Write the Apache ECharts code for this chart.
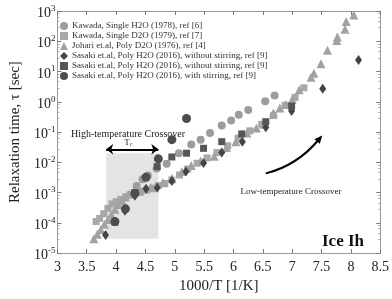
<!DOCTYPE html>
<html><head><meta charset="utf-8">
<script src="https://cdn.jsdelivr.net/npm/echarts@6/dist/echarts.min.js"></script>
<style>html,body{margin:0;padding:0;background:#fff}#c{width:392px;height:299px}</style>
</head><body><div id="c"></div>
<script>
// ---- data (x = 1000/T [1/K], y = relaxation time tau [sec]) ----
const seriesNames = [
  'Kawada, Single H2O (1978), ref [6]',
  'Kawada, Single D2O (1979), ref [7]',
  'Johari et.al, Poly D2O (1976), ref [4]',
  'Sasaki et.al, Poly H2O (2016), without stirring, ref [9]',
  'Sasaki et.al, Poly H2O (2016), without stirring, ref [9] ',
  'Sasaki et.al, Poly H2O (2016), with stirring, ref [9]'
];
const kawadaH2O_x = [4.35,4.45,4.54,4.69,4.86,5.07,5.28,5.44,5.60,5.80,5.96,6.09,6.25,6.54,6.70];
const kawadaH2O_y = [1.66e-3,2.75e-3,3.7e-3,6.2e-3,8.9e-3,2.0e-2,3.9e-2,5.6e-2,9.3e-2,0.166,0.24,0.37,0.54,1.05,1.6];
const kawadaD2O_x = [3.66,3.72,3.79,3.86,3.93,4.00,4.08,4.16,4.24,4.33,4.42,4.52,4.62,4.72,4.83,4.95,5.08,5.22,5.38,5.55,5.72,5.90,6.08,6.28,6.48,6.68,6.88,7.05,7.20];
const kawadaD2O_y = [1.1e-4,1.4e-4,2.0e-4,3.0e-4,4.2e-4,5.0e-4,6.0e-4,7.2e-4,8.5e-4,1.0e-3,1.1e-3,1.2e-3,1.4e-3,1.7e-3,2.0e-3,2.6e-3,3.8e-3,6.0e-3,9.3e-3,1.4e-2,2.1e-2,3.5e-2,6.3e-2,0.11,0.18,0.35,0.76,1.4,2.9];
const johari_x = [3.62,3.68,3.74,3.80,3.86,3.92,3.98,4.04,4.10,4.16,4.22,4.40,4.60,4.80,4.95,5.12,5.28,5.44,5.67,5.88,6.04,6.23,6.39,6.52,6.68,6.79,6.89,7.00,7.12,7.32,7.37,7.49,7.60,7.76,7.77,7.90,7.92,8.05];
const johari_y = [3.0e-5,4.2e-5,6.0e-5,8.9e-5,1.3e-4,1.9e-4,2.8e-4,4.0e-4,5.5e-4,7.2e-4,8.9e-4,1.1e-3,1.45e-3,2.1e-3,3.0e-3,5.0e-3,7.8e-3,1.1e-2,1.6e-2,3.1e-2,4.8e-2,9.3e-2,0.135,0.18,0.43,0.62,0.83,1.2,2.5,6.5,8.7,18,50,105,138,250,450,740];
const sasakiA_x = [3.82,4.15,4.32,4.51,4.70,4.95,5.19,5.49,5.80,6.15,6.55,6.99,7.52,8.13];
const sasakiA_y = [4.0e-5,2.5e-4,7.9e-4,1.35e-3,1.45e-3,2.4e-3,5.0e-3,9.5e-3,2.1e-2,4.8e-2,0.145,0.50,2.7,24];
const sasakiB_x = [3.98,4.32,4.70,4.95,5.20,5.49,5.80,6.14,6.55,6.99];
const sasakiB_y = [1.05e-4,1.0e-3,7.2e-3,1.5e-2,2.0e-2,2.9e-2,4.8e-2,8.7e-2,0.22,0.72];
const sasakiC_x = [3.98,4.16,4.32,4.51,4.72,4.95,5.20];
const sasakiC_y = [1.1e-4,2.9e-4,9.3e-4,3.2e-3,1.3e-2,5.6e-2,0.28];
const xTicks = [3,3.5,4,4.5,5,5.5,6,6.5,7,7.5,8,8.5];
const yExpTicks = [-5,-4,-3,-2,-1,0,1,2,3];
// annotation anchors (data coords)
const tcRegionX = [3.83, 4.72];
const tcRegionY = [3.0e-5, 2.0e-2];
const tcArrowY = 2.7e-2;
const lowArrowFrom = [6.55, 4.3e-3];
const lowArrowCtrl = [7.08, 7.8e-3];
const lowArrowTo = [7.49, 6.9e-2];

const zip = (a,b) => a.map((v,i)=>[v,b[i]]);
const serif = 'Liberation Serif';
const chart = echarts.init(document.getElementById('c'), null, {renderer:'canvas'});

function sc(name, xs, ys, symbol, size, color, z) {
  return {name, type:'scatter', data: zip(xs,ys), symbol, symbolSize:size, z,
    itemStyle:{color, opacity:1}, emphasis:{disabled:true}, xAxisIndex:0, yAxisIndex:0};
}

const axisLineStyle = {color:'#9a9a9a', width:1};
const option = {
  animation:false,
  backgroundColor:'#fff',
  grid:{left:41, right:9, top:11, bottom:36},
  legend:{
    data: seriesNames, orient:'vertical', left:55, top:16, itemGap:0,
    itemWidth:8, itemHeight:8,
    textStyle:{fontFamily:serif, fontSize:9, color:'#333', lineHeight:10, padding:[0,0,0,-1]},
    selectedMode:false
  },
  xAxis:[{
    type:'value', min:3, max:8.5, interval:0.5, position:'bottom',
    name:'1000/T [1/K]', nameLocation:'middle', nameGap:22,
    nameTextStyle:{fontFamily:serif, fontSize:15, color:'#222'},
    axisLine:{show:true, onZero:false, lineStyle:axisLineStyle},
    axisTick:{show:true, inside:true, length:4, lineStyle:{color:'#777'}},
    axisLabel:{fontFamily:serif, fontSize:14, color:'#222', margin:7,
      formatter:v=> xTicks.includes(+v.toFixed(2)) ? String(+v.toFixed(2)) : ''},
    splitLine:{show:false}
  },{
    type:'value', min:3, max:8.5, interval:0.5, position:'top',
    axisLine:{show:true, onZero:false, lineStyle:axisLineStyle},
    axisTick:{show:true, inside:true, length:4, lineStyle:{color:'#777'}},
    axisLabel:{show:false}, splitLine:{show:false}
  }],
  yAxis:[{
    type:'log', logBase:10, min:1e-5, max:1e3, position:'left',
    name:'Relaxation time, τ [sec]', nameLocation:'middle', nameGap:32,
    nameTextStyle:{fontFamily:serif, fontSize:15, color:'#222'},
    axisLine:{show:true, onZero:false, lineStyle:axisLineStyle},
    axisTick:{show:true, inside:true, length:4, lineStyle:{color:'#777'}},
    minorTick:{show:true, splitNumber:5, length:2, lineStyle:{color:'#aaa'}},
    axisLabel:{margin:2, formatter:v=>{
        const e = Math.round(Math.log10(v));
        return yExpTicks.includes(e) ? '{a|10}{s|' + e + '}' : '';
      },
      rich:{a:{fontFamily:serif, fontSize:14, color:'#222', lineHeight:14, padding:[5,0,0,0]},
            s:{fontFamily:serif, fontSize:9, color:'#222', lineHeight:9, verticalAlign:'top'}}},
    splitLine:{show:false}
  },{
    type:'log', logBase:10, min:1e-5, max:1e3, position:'right',
    axisLine:{show:true, onZero:false, lineStyle:axisLineStyle},
    axisTick:{show:true, inside:true, length:4, lineStyle:{color:'#777'}},
    minorTick:{show:true, splitNumber:5, length:2, lineStyle:{color:'#aaa'}},
    axisLabel:{show:false}, splitLine:{show:false}
  }],
  series:[
    {name:'_annot', type:'scatter', data:[], z:1, silent:true,
      markArea:{silent:true, itemStyle:{color:'#e4e4e4'},
        data:[[{coord:[tcRegionX[0], tcRegionY[0]]},{coord:[tcRegionX[1], tcRegionY[1]]}]]},
      markLine:{silent:true, animation:false, label:{show:false},
        data:[
          [{coord:[tcRegionX[0], tcArrowY], symbol:'arrow'},{coord:[tcRegionX[1], tcArrowY], symbol:'arrow'}]
        ],
        symbolSize:[8,7],
        lineStyle:{color:'#000', width:1.8, type:'solid'}
      }
    },
    sc(seriesNames[0], kawadaH2O_x, kawadaH2O_y, 'circle', 8, '#9c9c9c', 2),
    sc(seriesNames[1], kawadaD2O_x, kawadaD2O_y, 'rect', 7, '#a8a8a8', 3),
    sc(seriesNames[2], johari_x, johari_y, 'triangle', 9, '#a2a2a2', 4),
    sc(seriesNames[3], sasakiA_x, sasakiA_y, 'diamond', [7,10], '#454545', 5),
    sc(seriesNames[4], sasakiB_x, sasakiB_y, 'rect', 7, '#555555', 6),
    sc(seriesNames[5], sasakiC_x, sasakiC_y, 'circle', 9, '#4d4d4d', 7)
  ]
};
chart.setOption(option);

const toPx = p => chart.convertToPixel({xAxisIndex:0, yAxisIndex:0}, p);
const tcTop = toPx([(tcRegionX[0]+tcRegionX[1])/2, tcArrowY]);
const p0 = toPx(lowArrowFrom), pc = toPx(lowArrowCtrl), p2 = toPx(lowArrowTo);
// arrowhead along end tangent
const dx = p2[0]-pc[0], dy = p2[1]-pc[1], L = Math.hypot(dx,dy);
const ux = dx/L, uy = dy/L, nx = -uy, ny = ux;
const hl = 8, hw = 3.5;
const tip = [p2[0]+ux*2, p2[1]+uy*2];
const base = [tip[0]-ux*hl, tip[1]-uy*hl];
chart.setOption({graphic:[
  {type:'bezierCurve', shape:{x1:p0[0], y1:p0[1], cpx1:pc[0], cpy1:pc[1], x2:base[0]+ux*2, y2:base[1]+uy*2},
    style:{stroke:'#000', lineWidth:2, fill:null}, z:100},
  {type:'polygon', shape:{points:[tip, [base[0]+nx*hw, base[1]+ny*hw], [base[0]-nx*hw, base[1]-ny*hw]]},
    style:{fill:'#000'}, z:100},
  {type:'text', x:128, y:134, style:{text:'High-temperature Crossover', font:'10px "Liberation Serif"', fill:'#222', align:'center', verticalAlign:'middle'}},
  {type:'text', x:tcTop[0]-4, y:tcTop[1]-7, style:{text:'{t|T}{c|c}', align:'center', verticalAlign:'middle',
     rich:{t:{font:'9px "Liberation Serif"', fill:'#222'}, c:{font:'6px "Liberation Serif"', fill:'#222', padding:[5,0,0,0]}}}},
  {type:'text', x:291, y:192, style:{text:'Low-temperature Crossover', font:'9px "Liberation Serif"', fill:'#222', align:'center', verticalAlign:'middle'}},
  {type:'text', x:343, y:242, style:{text:'Ice Ih', font:'bold 17px "Liberation Serif"', fill:'#111', align:'center', verticalAlign:'middle'}}
]});
</script></body></html>
